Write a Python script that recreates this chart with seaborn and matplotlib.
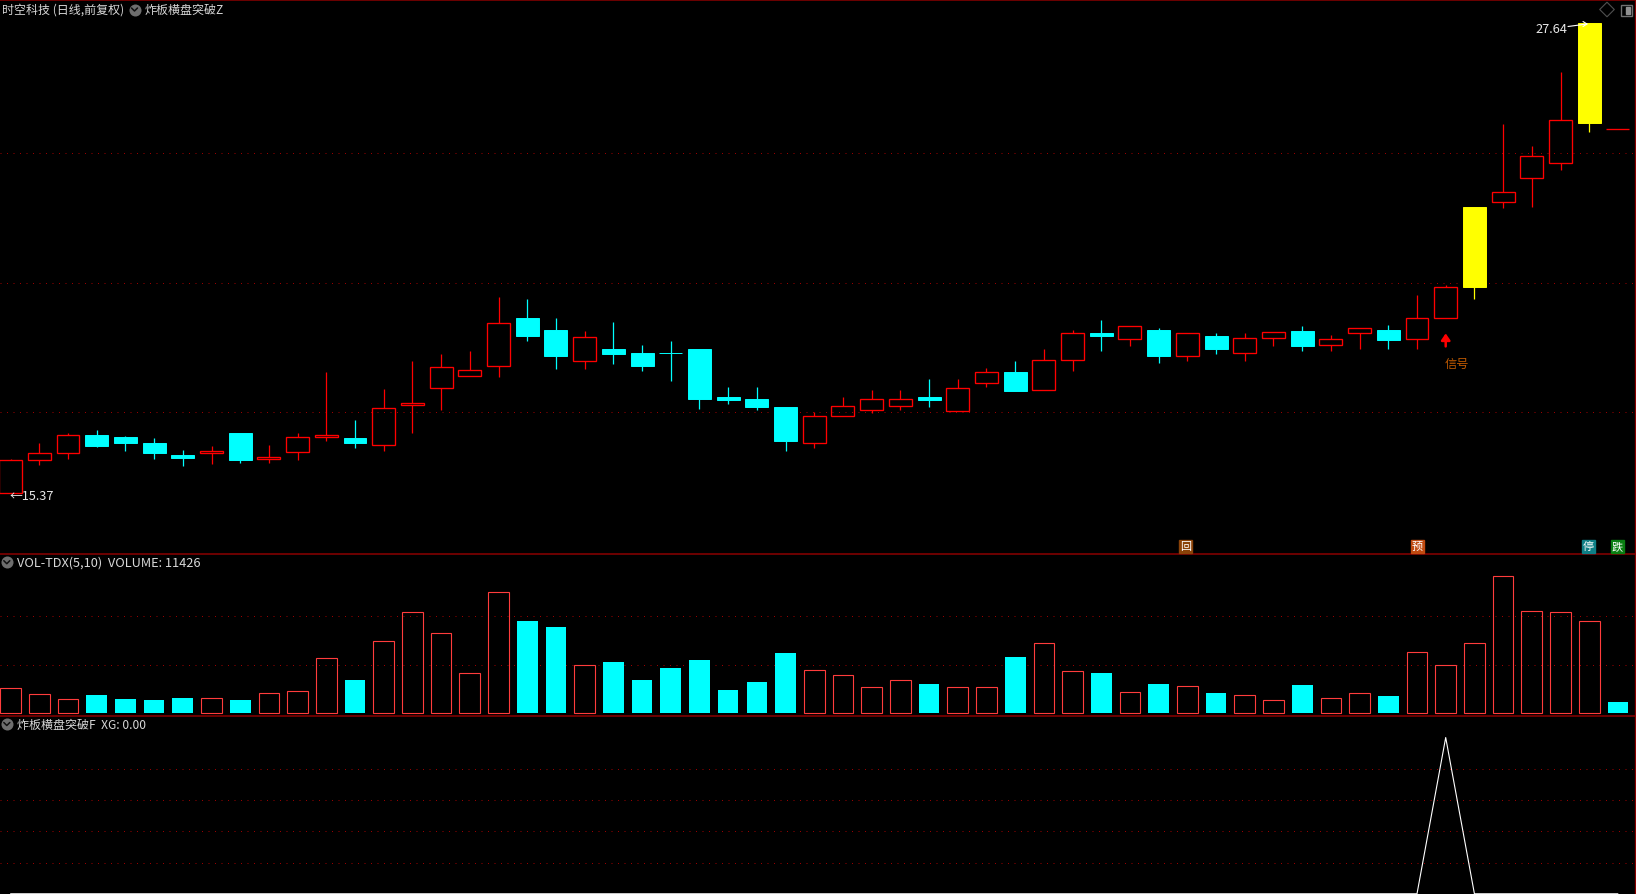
import pandas as pd
import seaborn as sns
import matplotlib.pyplot as plt
from matplotlib.patches import Rectangle

days = list(range(57))
open_p = [15.37,16.22,16.40,16.89,16.84,16.68,16.37,16.40,16.92,16.25,16.43,16.84,16.81,16.61,17.66,18.10,18.41,18.67,19.94,19.63,18.80,19.13,19.03,19.02,19.13,17.88,17.83,17.62,16.66,17.37,17.53,17.63,17.88,17.50,18.23,18.53,18.05,18.83,19.55,19.38,19.63,18.93,19.45,19.01,19.40,19.58,19.22,19.54,19.63,19.38,19.93,20.73,22.95,23.58,23.97,25.03,24.87]
close_p = [16.23,16.41,16.88,16.60,16.66,16.40,16.29,16.46,16.24,16.31,16.83,16.89,16.68,17.59,17.72,18.66,18.58,19.80,19.47,18.95,19.44,19.00,18.69,19.01,17.83,17.78,17.60,16.73,17.38,17.64,17.82,17.82,17.80,18.11,18.53,18.04,18.84,19.54,19.47,19.73,18.93,19.54,19.13,19.41,19.57,19.21,19.39,19.67,19.37,19.93,20.74,22.84,23.22,24.16,25.10,27.64,24.87]
high_p = [16.26,16.68,16.92,17.00,16.86,16.81,16.50,16.60,16.92,16.63,16.92,18.53,17.28,18.09,18.82,18.98,19.06,20.47,20.44,19.92,19.60,19.84,19.24,19.32,19.13,18.14,18.14,17.62,17.49,17.88,18.06,18.06,18.33,18.35,18.64,18.82,19.11,19.63,19.89,19.73,19.66,19.54,19.53,19.55,19.57,19.71,19.50,19.67,19.76,20.52,20.80,22.84,24.98,24.43,26.36,27.64,24.87]
low_p = [15.37,16.09,16.26,16.56,16.45,16.26,16.06,16.13,16.16,16.16,16.24,16.71,16.55,16.47,16.92,17.54,18.41,18.40,19.32,18.59,18.61,18.72,18.56,18.30,17.57,17.70,17.54,16.45,16.53,17.37,17.46,17.52,17.62,17.50,18.12,18.04,18.05,18.56,19.06,19.21,18.77,18.80,19.00,18.80,19.19,19.08,19.06,19.11,19.13,19.13,19.93,20.43,22.79,22.84,23.80,24.78,24.87]
volume = [24776,18908,14018,18256,14344,13366,15322,14996,13366,19886,21842,54116,32926,70742,99104,78566,39446,118664,90628,84760,47270,50530,32926,44662,52486,23146,30970,59332,42380,37490,25754,32600,29014,25754,25754,55420,68786,41402,39772,20864,29014,26732,20212,17930,13040,28036,14996,19886,17278,59984,47270,68786,134312,100082,99104,90302,11426]
limit_days = [51, 55]
xg = [0]*50 + [1] + [0]*6

price_grid = [17.48, 20.84, 24.23]
vol_grid = [47300, 95300]
xg_grid = [0.2, 0.4, 0.6, 0.8]

RED = "#ff0000"
VOLRED = "#ff3c3c"
CYAN = "#00ffff"
YELLOW = "#ffff00"
GRID = "#9a0000"
LINE = "#8b0000"

sns.set_theme(style="dark", rc={"axes.facecolor": "black", "figure.facecolor": "black"})
plt.rcParams["font.family"] = ["Noto Sans CJK SC", "DejaVu Sans"]

df = pd.DataFrame({"day": days, "open": open_p, "close": close_p, "high": high_p, "low": low_p, "volume": volume})
df["top"] = df[["open", "close"]].max(axis=1)
df["bot"] = df[["open", "close"]].min(axis=1)
df["body"] = df["top"] - df["bot"]
df["kind"] = "up"
df.loc[df.close < df.open, "kind"] = "down"
df.loc[df.day.isin(limit_days), "kind"] = "limit"

W, H = 1636, 895
fig = plt.figure(figsize=(W/100, H/100), dpi=100)
def panel(y0, y1):
    return fig.add_axes([0, 1-y1/H, 1, (y1-y0)/H])
ax1 = panel(0.5, 554.8)
ax2 = panel(554.8, 716.5)
ax3 = panel(716.5, 895)

# candles
colors = {"up": RED, "down": CYAN, "limit": YELLOW}
for kind, c in colors.items():
    d = df[df.kind == kind]
    ax1.vlines(d.day, d.top, d.high, color=c, lw=0.9, zorder=2)
    ax1.vlines(d.day, d.low, d.bot, color=c, lw=0.9, zorder=2)
    if kind == "up":
        sns.barplot(data=d, x="day", y="body", order=days, bottom=d.bot.values, ax=ax1,
                    color=c, saturation=1, width=0.8, errorbar=None,
                    fill=False, linewidth=0.95, zorder=3)
    else:
        sns.barplot(data=d, x="day", y="body", order=days, bottom=d.bot.values, ax=ax1,
                    color=c, saturation=1, width=0.8, errorbar=None,
                    edgecolor=c, linewidth=0.7, zorder=3)

# volume
up_vol = df[df.close > df.open]
dn_vol = df[df.close <= df.open]
sns.barplot(data=up_vol, x="day", y="volume", order=days, ax=ax2, color=VOLRED, saturation=1,
            width=0.72, errorbar=None, fill=False, linewidth=0.8, zorder=3)
sns.barplot(data=dn_vol, x="day", y="volume", order=days, ax=ax2, color=CYAN, saturation=1,
            width=0.72, errorbar=None, linewidth=0, zorder=3)

# XG line
sns.lineplot(x=days, y=xg, ax=ax3, color="white", lw=0.8, zorder=3)

for ax, grid in ((ax1, price_grid), (ax2, vol_grid), (ax3, xg_grid)):
    for g in grid:
        ax.axhline(g, color=GRID, lw=0.72, ls=(0, (1, 5.5)), zorder=1)
    ax.set_xlim(-0.369, 56.63)
    ax.grid(False)
    ax.set_xlabel("")
    ax.set_ylabel("")
    ax.set_xticks([])
    ax.set_yticks([])
    for s in ax.spines.values():
        s.set_visible(False)
ax1.set_ylim(13.78, 28.24)
ax2.set_ylim(-2250, 155900)
ax3.set_ylim(-0.0015, 1.141)

# signal arrow
ax1.annotate("", xy=(50, 19.53), xytext=(50, 19.19),
             arrowprops=dict(arrowstyle="-|>,head_width=0.22,head_length=0.32", color=RED, lw=1.8, shrinkA=0, shrinkB=0))
ax1.text(49.98, 18.74, "信号", color="#c05a00", fontsize=8.8, va="center", ha="left")

# overlay in pixels: dividers, headers, small icons
ov = fig.add_axes([0, 0, 1, 1], facecolor="none")
ov.set_xlim(0, W)
ov.set_ylim(H-0.5, -0.5)
ov.axis("off")
for y in (0.5, 554.3, 716):
    ov.plot([0, W], [y, y], color=LINE, lw=1.1)
ov.plot([1635, 1635], [0, H], color=LINE, lw=0.9)

def chevron(x, y):
    ov.scatter([x], [y], s=75, color="#6e6e6e", linewidths=0, zorder=5)
    ov.plot([x-3, x, x+3], [y-1.5, y+1.5, y-1.5], color="#111111", lw=1.1, zorder=6)

def label(x, y, s, color="#d8d8d8", size=8.65):
    ov.text(x, y, s, color=color, fontsize=size, va="center", ha="left", zorder=7)

label(2, 9.5, "时空科技 (日线,前复权)")
chevron(134.5, 10)
label(145, 9.5, "炸板横盘突破Z")
chevron(6.8, 562.7)
label(17, 562.5, "VOL-TDX(5,10)  VOLUME: 11426", size=9.2)
chevron(6.8, 724.5)
label(17, 724.5, "炸板横盘突破F  XG: 0.00")
label(10, 495.5, "←15.37", color="#e8e8e8", size=9.2)
label(1535, 28.5, "27.64", color="#e8e8e8", size=9.2)
ov.plot([1568, 1587], [27, 24.5], color="white", lw=0.8, zorder=7)
ov.plot([1583, 1587, 1583], [22, 24.5, 27], color="white", lw=0.8, zorder=7)

for x, s, c in ((1185.8, "回", "#8a4208"), (1417, "预", "#c04a10"), (1588.5, "停", "#0e7f86"), (1617, "跌", "#0a7f12")):
    ov.add_patch(Rectangle((x-6.5, 540), 13, 13, color=c, zorder=5))
    ov.text(x, 546.2, s, color="white", fontsize=8, ha="center", va="center", zorder=6)

ov.scatter([1607], [10], marker="D", s=55, facecolors="none", edgecolors="#505050", linewidths=0.8)
ov.add_patch(Rectangle((1620.5, 5.5), 11, 10.5, fill=False, edgecolor="#707070", lw=1))
ov.add_patch(Rectangle((1626, 7.5), 3.5, 6.5, color="#909090"))

fig.savefig("out.png", dpi=100, facecolor="black")
